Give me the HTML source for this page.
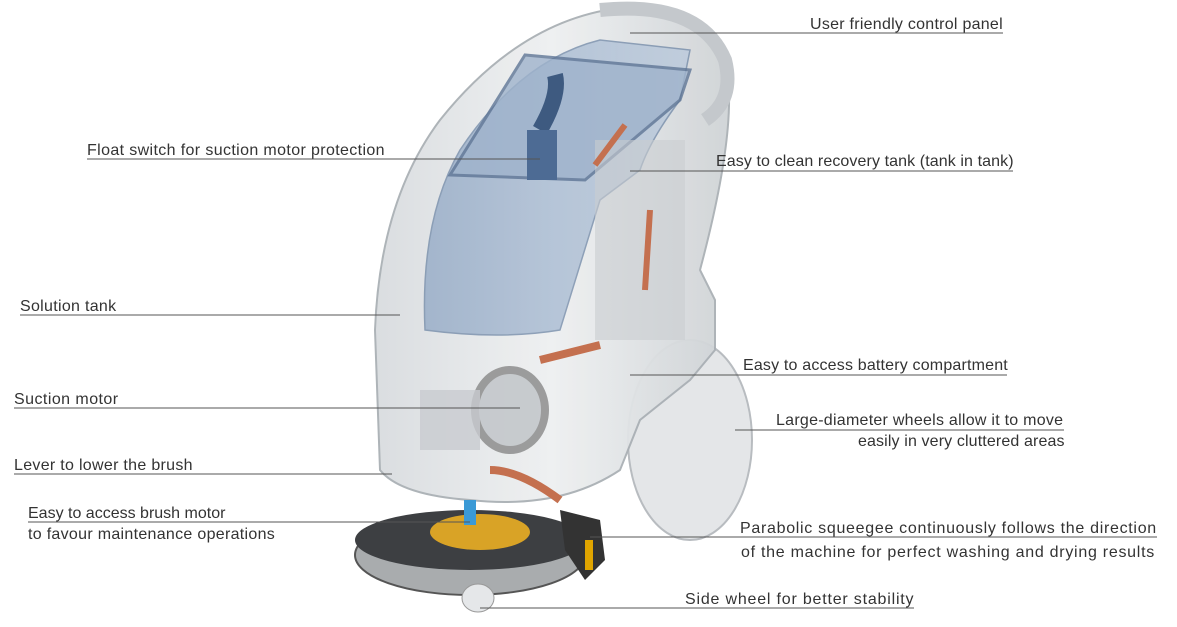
<!DOCTYPE html>
<html><head><meta charset="utf-8"><style>
html,body{margin:0;padding:0;background:#fff;}
body{width:1177px;height:627px;position:relative;overflow:hidden;font-family:"Liberation Sans",sans-serif;}
.t{position:absolute;font-size:16px;color:#333;white-space:nowrap;line-height:20px;margin-top:2px;}
svg{position:absolute;left:0;top:0;}
</style></head><body>
<svg width="1177" height="627" viewBox="0 0 1177 627">
<defs>
<linearGradient id="b" x1="0" x2="1"><stop offset="0" stop-color="#d9dcdf"/><stop offset="0.5" stop-color="#eef0f1"/><stop offset="1" stop-color="#cfd3d6"/></linearGradient>
<linearGradient id="bl" x1="0" x2="1"><stop offset="0" stop-color="#8fa6c4"/><stop offset="1" stop-color="#b9c9dc"/></linearGradient>
</defs>
<ellipse cx="690" cy="440" rx="62" ry="100" fill="#e4e6e8" stroke="#b8bcc0" stroke-width="2"/>
<path d="M380 470 L375 330 Q380 200 440 120 Q520 20 620 8 Q700 5 725 60 Q740 120 700 270 L715 300 L715 350 L690 380 L640 420 L620 470 Q560 510 470 500 Q400 495 380 470Z" fill="url(#b)" stroke="#aab0b5" stroke-width="2" opacity="0.95"/>
<path d="M425 330 Q420 220 460 150 Q520 60 600 40 L690 50 L680 100 Q650 140 640 170 L600 200 L560 330 Q500 340 425 330Z" fill="url(#bl)" opacity="0.75" stroke="#6f87a6" stroke-width="1.5"/>
<path d="M450 175 L525 55 L690 70 L680 100 L585 180 Z" fill="#9fb3cc" stroke="#5f7696" stroke-width="3" opacity="0.8"/>
<path d="M600 10 Q700 0 725 60 Q735 100 705 120" fill="none" stroke="#c4c8cc" stroke-width="14"/>
<rect x="595" y="140" width="90" height="200" fill="#c9cdd1" opacity="0.6"/>
<ellipse cx="510" cy="410" rx="35" ry="40" fill="#bfc3c7" stroke="#888" stroke-width="8" opacity="0.8"/>
<rect x="420" y="390" width="60" height="60" fill="#c8cbcf" opacity="0.8"/>
<path d="M540 130 Q560 95 555 75" stroke="#3e5a80" stroke-width="16" fill="none"/>
<rect x="527" y="130" width="30" height="50" fill="#4d6b94"/>
<ellipse cx="470" cy="555" rx="115" ry="40" fill="#a9acae" stroke="#555" stroke-width="2"/>
<ellipse cx="470" cy="540" rx="115" ry="30" fill="#3d3f42"/>
<ellipse cx="480" cy="532" rx="50" ry="18" fill="#d9a326"/>
<ellipse cx="478" cy="598" rx="16" ry="14" fill="#e5e7e9" stroke="#999"/>
<path d="M560 510 L600 520 L605 560 L585 580 L565 550Z" fill="#333"/>
<rect x="585" y="540" width="8" height="30" fill="#e0a500"/>
<path d="M490 470 Q520 470 560 500" stroke="#c4704f" stroke-width="8" fill="none"/>
<path d="M540 360 L600 345" stroke="#c4704f" stroke-width="8"/>
<path d="M650 210 L645 290" stroke="#c4704f" stroke-width="6"/>
<path d="M625 125 L595 165" stroke="#c4704f" stroke-width="6"/>
<path d="M470 500 L470 525" stroke="#3b9ad6" stroke-width="12"/>
<g stroke="#555" stroke-width="1" fill="none">
<line x1="630" y1="33" x2="1003" y2="33"/>
<line x1="87" y1="159" x2="540" y2="159"/>
<line x1="630" y1="171" x2="1013" y2="171"/>
<line x1="20" y1="315" x2="400" y2="315"/>
<line x1="630" y1="375" x2="1007" y2="375"/>
<line x1="14" y1="408" x2="520" y2="408"/>
<line x1="735" y1="430" x2="1064" y2="430"/>
<line x1="14" y1="474" x2="392" y2="474"/>
<line x1="28" y1="522" x2="470" y2="522"/>
<line x1="590" y1="537" x2="1157" y2="537"/>
<line x1="480" y1="608" x2="914" y2="608"/>
</g>
</svg>
<div class="t" style="left:810px;top:13px;letter-spacing:0.26px">User friendly control panel</div>
<div class="t" style="left:87px;top:139px;letter-spacing:0.37px">Float switch for suction motor protection</div>
<div class="t" style="left:716px;top:150px;letter-spacing:0.1px">Easy to clean recovery tank (tank in tank)</div>
<div class="t" style="left:20px;top:295px;letter-spacing:0.3px">Solution tank</div>
<div class="t" style="left:743px;top:354px;letter-spacing:0.18px">Easy to access battery compartment</div>
<div class="t" style="left:14px;top:388px;letter-spacing:0.45px">Suction motor</div>
<div class="t" style="left:776px;top:409px;letter-spacing:0.26px">Large-diameter wheels allow it to move</div>
<div class="t" style="left:858px;top:430px;letter-spacing:0.13px">easily in very cluttered areas</div>
<div class="t" style="left:14px;top:454px;letter-spacing:0.3px">Lever to lower the brush</div>
<div class="t" style="left:28px;top:502px">Easy to access brush motor</div>
<div class="t" style="left:28px;top:523px;letter-spacing:0.3px">to favour maintenance operations</div>
<div class="t" style="left:740px;top:517px;letter-spacing:0.7px">Parabolic squeegee continuously follows the direction</div>
<div class="t" style="left:741px;top:541px;letter-spacing:0.73px">of the machine for perfect washing and drying results</div>
<div class="t" style="left:685px;top:588px;letter-spacing:0.8px">Side wheel for better stability</div>
</body></html>
